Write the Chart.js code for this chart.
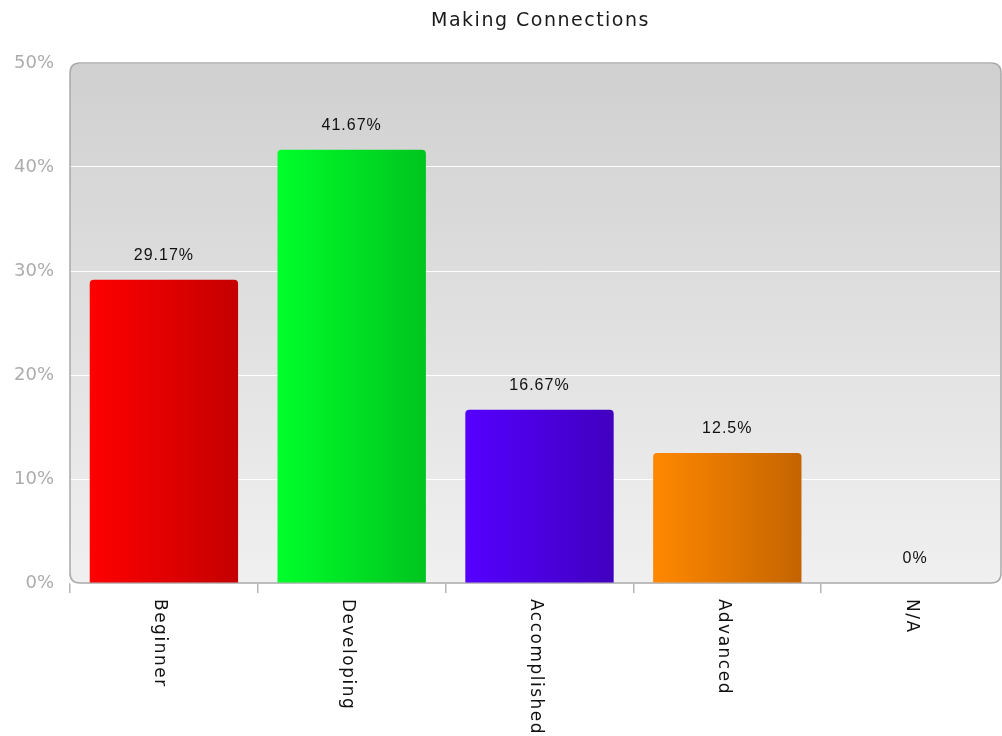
<!DOCTYPE html>
<html>
<head>
<meta charset="utf-8">
<script src="https://cdn.jsdelivr.net/npm/chart.js@4.4.1/dist/chart.umd.min.js"></script>
<style>
html,body{margin:0;padding:0;background:#fff;overflow:hidden;width:1002px;height:736px;}
#wrap{width:1010px;height:736px;}
</style>
</head>
<body>
<div id="wrap"><canvas id="c" width="1010" height="736"></canvas></div>
<script>
const chartTitle = "Making Connections";
const categories = ["Beginner", "Developing", "Accomplished", "Advanced", "N/A"];
const values = [29.17, 41.67, 16.67, 12.5, 0];
const valueLabels = ["29.17%", "41.67%", "16.67%", "12.5%", "0%"];
const yTicks = [0, 10, 20, 30, 40, 50];
const barLight = ["#ff0000", "#00ff2a", "#5500ff", "#ff8800", "#999999"];
const barDark = ["#c40000", "#00c41e", "#4100bf", "#c46400", "#777777"];

function roundRect(ctx, x, y, w, h, r) {
  ctx.beginPath();
  ctx.moveTo(x + r, y);
  ctx.lineTo(x + w - r, y);
  ctx.quadraticCurveTo(x + w, y, x + w, y + r);
  ctx.lineTo(x + w, y + h - r);
  ctx.quadraticCurveTo(x + w, y + h, x + w - r, y + h);
  ctx.lineTo(x + r, y + h);
  ctx.quadraticCurveTo(x, y + h, x, y + h - r);
  ctx.lineTo(x, y + r);
  ctx.quadraticCurveTo(x, y, x + r, y);
  ctx.closePath();
}

const decor = {
  id: 'decor',
  beforeDraw(chart) {
    const {ctx, chartArea: a} = chart;
    const right = Math.min(a.right, 1001);
    ctx.save();
    const g = ctx.createLinearGradient(0, a.top, 0, a.bottom);
    g.addColorStop(0, '#d0d0d0');
    g.addColorStop(1, '#f0f0f0');
    roundRect(ctx, a.left, a.top, right - a.left, a.bottom - a.top, 10);
    ctx.fillStyle = g;
    ctx.fill();
    ctx.restore();
    // title
    ctx.save();
    ctx.font = '19px "DejaVu Sans"';
    ctx.letterSpacing = '1.5px';
    ctx.fillStyle = '#1a1a1a';
    ctx.textAlign = 'center';
    ctx.textBaseline = 'middle';
    ctx.fillText(chartTitle, (a.left + a.right) / 2 + 1, 21);
    ctx.restore();
  },
  beforeDatasetsDraw(chart) {
    const {ctx, chartArea: a} = chart;
    const right = Math.min(a.right, 1001);
    ctx.save();
    roundRect(ctx, a.left, a.top, right - a.left, a.bottom - a.top, 10);
    ctx.strokeStyle = '#a9a9a9';
    ctx.lineWidth = 1.5;
    ctx.stroke();
    ctx.restore();
    const meta = chart.getDatasetMeta(0);
    meta.data.forEach((bar, i) => {
      const w = bar.width;
      const gr = ctx.createLinearGradient(bar.x - w / 2, 0, bar.x + w / 2, 0);
      gr.addColorStop(0, barLight[i]);
      gr.addColorStop(1, barDark[i]);
      bar.options.backgroundColor = gr;
    });
  },
  afterDatasetsDraw(chart) {
    const {ctx} = chart;
    const meta = chart.getDatasetMeta(0);
    ctx.save();
    ctx.font = '16px "Liberation Sans"';
    ctx.letterSpacing = '1px';
    ctx.fillStyle = '#111';
    ctx.textAlign = 'center';
    ctx.textBaseline = 'middle';
    meta.data.forEach((bar, i) => {
      ctx.fillText(valueLabels[i], bar.x, bar.y - 24);
    });
    ctx.restore();
    // x labels rotated clockwise
    const xs = chart.scales.x;
    ctx.save();
    ctx.font = '17px "DejaVu Sans"';
    ctx.letterSpacing = '1.5px';
    ctx.fillStyle = '#111';
    ctx.textAlign = 'left';
    ctx.textBaseline = 'middle';
    categories.forEach((c, i) => {
      const x = xs.getPixelForValue(i);
      ctx.save();
      ctx.translate(x - 4, chart.chartArea.bottom + 16);
      ctx.rotate(Math.PI / 2);
      ctx.fillText(c, 0, 0);
      ctx.restore();
    });
    ctx.restore();
  }
};

new Chart(document.getElementById('c'), {
  type: 'bar',
  data: {
    labels: categories,
    datasets: [{
      data: values,
      backgroundColor: barLight.slice(),
      borderWidth: 0,
      borderRadius: {topLeft: 4, topRight: 4, bottomLeft: 0, bottomRight: 0},
      borderSkipped: 'bottom',
      categoryPercentage: 1,
      barPercentage: 0.79
    }]
  },
  options: {
    responsive: false,
    animation: false,
    layout: {padding: {top: 63, right: 1, left: 0, bottom: 0}},
    plugins: {legend: {display: false}, title: {display: false}, tooltip: {enabled: false}},
    scales: {
      x: {
        offset: true,
        border: {display: false},
        grid: {offset: true, drawOnChartArea: false, drawTicks: true, tickLength: 10, color: '#b5b5b5', lineWidth: 1.5},
        ticks: {display: false},
        afterFit(s) { s.height = 153; }
      },
      y: {
        min: 0, max: 50,
        afterBuildTicks(s) { s.ticks = yTicks.map(v => ({value: v})); },
        border: {display: false},
        grid: {color: '#ffffff', lineWidth: 1, drawTicks: false},
        ticks: {
          padding: 16,
          color: '#acacac',
          font: {family: 'DejaVu Sans', size: 18},
          callback: v => v + '%'
        },
        afterFit(s) { s.width = 70; }
      }
    }
  },
  plugins: [decor]
});
</script>
</body>
</html>
